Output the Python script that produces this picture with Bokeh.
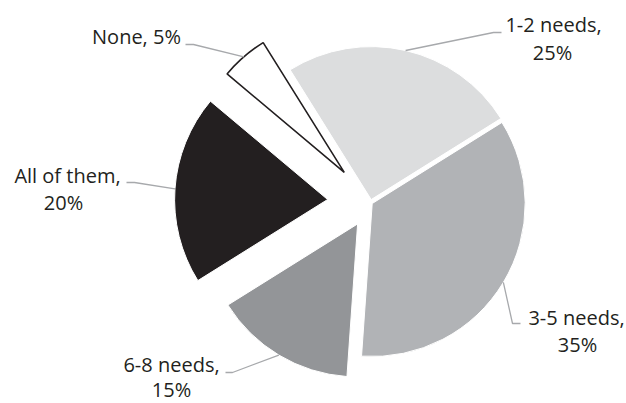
import numpy as np
from bokeh.plotting import figure
from bokeh.models import Range1d, ColumnDataSource
from bokeh.core.properties import value
from bokeh.embed import file_html
from bokeh.resources import INLINE

# ---- data ----
categories = ["1-2 needs", "3-5 needs", "6-8 needs", "All of them", "None"]
percent = [25, 35, 15, 20, 5]

# ---- styles / layout ----
fill_colors = ["#dcddde", "#b1b3b6", "#939598", "#231f20", "#ffffff"]
edge_colors = ["#ffffff", "#ffffff", "#ffffff", "#ffffff", "#231f20"]
edge_widths = [1, 1, 1, 1, 1.6]
explode = [3, 2, 25, 43, 40]
START_DEG = 122.0
W, H = 626, 403
CX, CY, R = 370.0, 201.0, 153.0   # pixel-style data units (y up)
TOP = 403
TEXT_SHIFT = 8  # compensate renderer baseline offset
# leader elbows and ends (x, screen-y)
elbow = [(493, 32), (512, 323), (232, 372), (134, 182), (193, 44)]
lend = [(501, 32), (520, 323), (225, 372), (126, 182), (185, 44)]
# label anchors (center x, baseline screen y) for first / second line
line1_pos = [(553, 32), (576, 325), (171, 372), (67, 183), (136, 44)]
line2_pos = [(552, 60), (577, 352), (171, 397), (63, 210), None]

TEXT_COLOR = "#231f20"
LEADER_COLOR = "#a7a9ac"
FONT = "Open Sans"
FONT_SIZE = "20px"

p = figure(width=W, height=H, output_backend="svg", toolbar_location=None,
           x_range=Range1d(0, W), y_range=Range1d(TOP - H, TOP),
           min_border=0, outline_line_color=None)
p.axis.visible = False
p.grid.visible = False
p.background_fill_color = "white"
p.border_fill_color = "white"

total = float(sum(percent))
cum = np.concatenate([[0.0], np.cumsum(percent)[:-1]])
hi = np.deg2rad(START_DEG - cum / total * 360.0)
lo = hi - np.deg2rad(np.array(percent) / total * 360.0)
mid = (hi + lo) / 2.0
ex = np.array(explode, dtype=float)
wx = CX + ex * np.cos(mid)
wy = CY + ex * np.sin(mid)

src = ColumnDataSource(dict(x=wx, y=wy, start=lo, end=hi, fill=fill_colors,
                            line=edge_colors, lw=edge_widths))
p.wedge(x="x", y="y", radius=R, start_angle="start", end_angle="end",
        direction="anticlock", fill_color="fill", line_color="line",
        line_width="lw", source=src)

# leader lines
xs, ys = [], []
for i in range(len(categories)):
    ax = wx[i] + R * np.cos(mid[i])
    ay = wy[i] + R * np.sin(mid[i])
    xs.append([ax, elbow[i][0], lend[i][0]])
    ys.append([ay, TOP - elbow[i][1], TOP - lend[i][1]])
p.multi_line(xs=xs, ys=ys, line_color=LEADER_COLOR, line_width=1.3)

# labels
tx, ty, tt = [], [], []
for i, (c, v) in enumerate(zip(categories, percent)):
    if line2_pos[i] is None:
        tx.append(line1_pos[i][0]); ty.append(TOP - line1_pos[i][1] + TEXT_SHIFT); tt.append(f"{c}, {v}%")
    else:
        tx.append(line1_pos[i][0]); ty.append(TOP - line1_pos[i][1] + TEXT_SHIFT); tt.append(f"{c},")
        tx.append(line2_pos[i][0]); ty.append(TOP - line2_pos[i][1] + TEXT_SHIFT); tt.append(f"{v}%")
p.text(x=tx, y=ty, text=tt, text_align="center", text_baseline="alphabetic",
       text_font=value(FONT), text_font_size=FONT_SIZE, text_color=TEXT_COLOR)

open("out.html", "w").write(file_html(p, INLINE))
